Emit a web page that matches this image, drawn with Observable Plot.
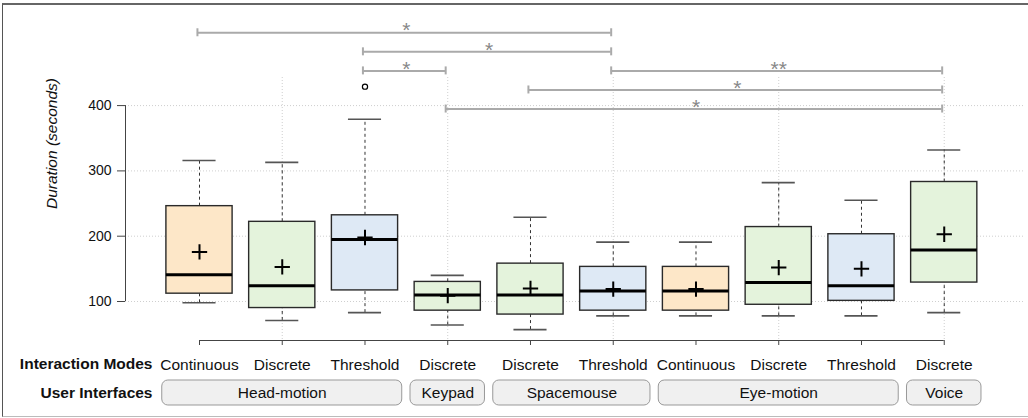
<!DOCTYPE html>
<html>
<head>
<meta charset="utf-8">
<script src="https://cdn.jsdelivr.net/npm/d3@7"></script>
<script src="https://cdn.jsdelivr.net/npm/@observablehq/plot@0.6"></script>
<style>
  html, body { margin: 0; padding: 0; background: #fff; }
  #wrap { position: relative; width: 1028px; height: 418px; overflow: hidden; }
  #wrap svg { position: absolute; left: 0; top: 0; }
  #border { position: absolute; left: 2px; top: 3px; width: 1026px; height: 411px;
            border-top: 2px solid #666; border-left: 1px solid #555; border-bottom: 1px solid #bbb; pointer-events: none; }
</style>
</head>
<body>
<div id="wrap"><div id="border"></div></div>
<script>
// ---- data ----
const interfaces = ["Head-motion","Head-motion","Head-motion","Keypad","Spacemouse","Spacemouse","Eye-motion","Eye-motion","Eye-motion","Voice"];
const modes = ["Continuous","Discrete","Threshold","Discrete","Discrete","Threshold","Continuous","Discrete","Threshold","Discrete"];
const whiskerLow  = [98, 71, 83, 64, 57, 78, 78, 78, 78, 83];
const q1          = [112, 90, 117, 86, 80, 86, 86, 95, 101, 129];
const median      = [141, 124, 195, 110, 110, 116, 116, 129, 124, 179];
const q3          = [246, 222, 232, 130, 158, 153, 153, 214, 203, 283];
const whiskerHigh = [316, 313, 379, 140, 229, 191, 191, 282, 255, 332];
const means       = [176, 153, 198, 109, 120, 119, 119, 152, 150, 203];
const outlierCat = [3];
const outlierValue = [429];
const yTicks = [100, 200, 300, 400];
// significance comparisons (category indices, 1-based), label, and row from top
const sigFrom  = [1, 3, 3, 6, 5, 4];
const sigTo    = [6, 6, 4, 10, 10, 10];
const sigLabel = ["*", "*", "*", "**", "*", "*"];
const sigRow   = [0, 1, 2, 2, 3, 4];
const modeColor = {Continuous: "#fde7c8", Discrete: "#e4f3dc", Threshold: "#dee9f5"};

// ---- build tables ----
const rows = modes.map((m, k) => ({
  i: k + 1, mode: m, iface: interfaces[k],
  lo: whiskerLow[k], q1: q1[k], med: median[k], q3: q3[k], hi: whiskerHigh[k], mean: means[k]
}));
const outliers = outlierCat.map((c, k) => ({i: c, v: outlierValue[k]}));
const groups = [];
interfaces.forEach((g, k) => {
  const last = groups[groups.length - 1];
  if (last && last.name === g) last.to = k + 1;
  else groups.push({name: g, from: k + 1, to: k + 1});
});

// scale geometry
const W = 1028, H = 418, mL = 125, mR = 4, mT = 77, mB = 78;
const X0 = 0.1057, X1 = 10.97, Y0 = 40.3, Y1 = 443;
const py = d3.scaleLinear().domain([Y0, Y1]).range([H - mB, mT]);
const pxToY = p => py.invert(p);
const unitPerPx = (Y1 - Y0) / (H - mB - mT);

const sigTop = 511.5, sigStep = 29.2;
const sigs = sigFrom.map((f, k) => ({from: f, to: sigTo[k], label: sigLabel[k], y: sigTop - sigStep * sigRow[k]}));

const font = "'Liberation Sans', Arial, Helvetica, sans-serif";

const chart = Plot.plot({
  width: W, height: H,
  marginLeft: mL, marginRight: mR, marginTop: mT, marginBottom: mB,
  x: {type: "linear", domain: [X0, X1], axis: null},
  y: {type: "linear", domain: [Y0, Y1], axis: null},
  color: {type: "identity"},
  style: {fontFamily: font, fontSize: "14px", background: "transparent", overflow: "visible", color: "#111"},
  marks: [
    // grid
    Plot.ruleY(yTicks, {stroke: "#cfcfcf", strokeDasharray: "1,2"}),
    Plot.ruleX([2, 4, 6, 8, 10], {stroke: "#cfcfcf", strokeDasharray: "1,2"}),
    // whiskers
    Plot.ruleX(rows, {x: "i", y1: "q3", y2: "hi", stroke: "#333", strokeDasharray: "3,3"}),
    Plot.ruleX(rows, {x: "i", y1: "lo", y2: "q1", stroke: "#333", strokeDasharray: "3,3"}),
    Plot.ruleY(rows, {y: "hi", x1: d => d.i - 0.2, x2: d => d.i + 0.2, stroke: "#555", strokeWidth: 1.6}),
    Plot.ruleY(rows, {y: "lo", x1: d => d.i - 0.2, x2: d => d.i + 0.2, stroke: "#555", strokeWidth: 1.6}),
    // boxes
    Plot.rect(rows, {x1: d => d.i - 0.4, x2: d => d.i + 0.4, y1: "q1", y2: "q3",
      fill: d => modeColor[d.mode], stroke: "#2a2a2a", strokeWidth: 1.4}),
    Plot.ruleY(rows, {y: "med", x1: d => d.i - 0.4, x2: d => d.i + 0.4, stroke: "#000", strokeWidth: 3}),
    Plot.dot(rows, {x: "i", y: "mean", symbol: "plus", r: 5, stroke: "#000", strokeWidth: 2}),
    Plot.dot(outliers, {x: "i", y: "v", r: 2.6, stroke: "#000", fill: "#fff", strokeWidth: 1.2}),
    // y axis
    Plot.ruleX([X0], {y1: yTicks[0], y2: yTicks[yTicks.length - 1], stroke: "#444"}),
    Plot.axisY({ticks: yTicks, tickSize: 8, tickPadding: 6, label: null, fontSize: 14, stroke: "#444"}),
    Plot.text(["Duration (seconds)"], {frameAnchor: "left", dx: -73, rotate: -90, fontStyle: "italic", fontSize: 15.5, fill: "#111"}),
    // x axis
    Plot.ruleY([Y0], {x1: 1, x2: rows.length, stroke: "#444"}),
    Plot.axisX({ticks: d3.range(1, rows.length + 1), tickSize: 5, tickPadding: 13, tickFormat: d => modes[d - 1], label: null, fontSize: 15.5, stroke: "#444"}),
    Plot.text(["Interaction Modes"], {x: 1 - 47 / 82.75, y: pxToY(363.5), textAnchor: "end", fontWeight: "bold", fontSize: 15.5, fill: "#111"}),
    Plot.text(["User Interfaces"], {x: 1 - 47 / 82.75, y: pxToY(392.5), textAnchor: "end", fontWeight: "bold", fontSize: 15.5, fill: "#111"}),
    Plot.rect(groups, {x1: d => d.from - 0.45, x2: d => d.to + 0.45, y1: pxToY(405), y2: pxToY(380),
      rx: 6, fill: "#f0f0f0", stroke: "#999", strokeWidth: 1}),
    Plot.text(groups, {x: d => (d.from + d.to) / 2, y: pxToY(392.5), text: "name", fontSize: 15.5, fill: "#111"}),
    // significance bars
    Plot.ruleY(sigs, {y: "y", x1: d => d.from - 0.025, x2: d => d.to - 0.025, stroke: "#aaa", strokeWidth: 2}),
    Plot.ruleX(sigs, {x: d => d.from - 0.025, y1: d => d.y - 4 * unitPerPx, y2: d => d.y + 4 * unitPerPx, stroke: "#aaa", strokeWidth: 2}),
    Plot.ruleX(sigs, {x: d => d.to - 0.025, y1: d => d.y - 4 * unitPerPx, y2: d => d.y + 4 * unitPerPx, stroke: "#aaa", strokeWidth: 2}),
    Plot.text(sigs, {x: d => (d.from + d.to) / 2, y: "y", text: "label", dy: -2, fontSize: 21, fill: "#888"})
  ]
});
document.getElementById("wrap").prepend(chart);
</script>
</body>
</html>
